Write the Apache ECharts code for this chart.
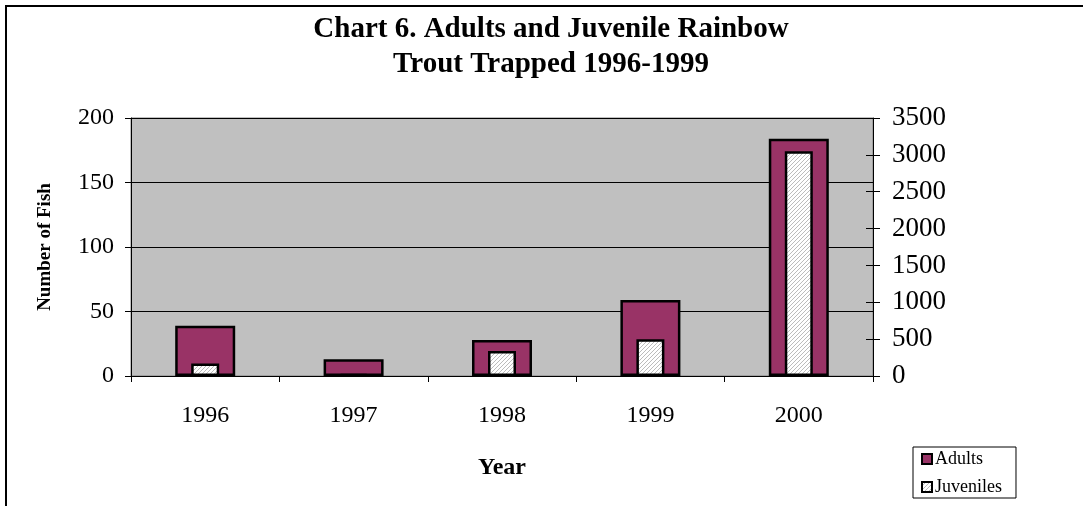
<!DOCTYPE html>
<html>
<head>
<meta charset="utf-8">
<script src="https://cdn.jsdelivr.net/npm/echarts@6/dist/echarts.min.js"></script>
<style>
html,body{margin:0;padding:0;background:#fff;}
#chart{width:1083px;height:506px;}
</style>
</head>
<body>
<div id="chart"></div>
<script>
const categories = ['1996', '1997', '1998', '1999', '2000'];
const adults = [39, 13, 28, 59, 184];
const juveniles = [170, 25, 340, 500, 3050];
const titleLines = ['Chart 6. Adults and Juvenile Rainbow', 'Trout Trapped 1996-1999'];
const seriesNames = ['Adults', 'Juveniles'];

const FONT = "'Liberation Serif', 'Times New Roman', serif";

// hatch pattern for juveniles
const pc = document.createElement('canvas');
pc.width = 4; pc.height = 4;
const pctx = pc.getContext('2d');
pctx.fillStyle = '#ffffff';
pctx.fillRect(0, 0, 4, 4);
pctx.strokeStyle = '#bcbcbc';
pctx.lineWidth = 1;
pctx.beginPath();
pctx.moveTo(0, 4); pctx.lineTo(4, 0);
pctx.moveTo(-2, 2); pctx.lineTo(2, -2);
pctx.moveTo(2, 6); pctx.lineTo(6, 2);
pctx.stroke();
const hatch = { image: pc, repeat: 'repeat' };

const chart = echarts.init(document.getElementById('chart'));
const option = {
  animation: false,
  backgroundColor: '#ffffff',
  graphic: [
    { type: 'rect', shape: { x: 6, y: 6, width: 1200, height: 700 }, style: { fill: 'none', stroke: '#000', lineWidth: 2 }, silent: true, z: 100 },
    { type: 'text', x: 551, y: 30, style: { text: titleLines[0], font: "bold 29px 'Liberation Serif', serif", fill: '#000', align: 'center', verticalAlign: 'middle' } },
    { type: 'text', x: 551, y: 65, style: { text: titleLines[1], font: "bold 29px 'Liberation Serif', serif", fill: '#000', align: 'center', verticalAlign: 'middle' } }
  ],
  grid: {
    left: 131, right: 210, top: 118, bottom: 130,
    show: true, backgroundColor: '#c0c0c0', borderColor: '#808080', borderWidth: 1
  },
  legend: {
    orient: 'vertical',
    left: 913, top: 447,
    data: seriesNames,
    icon: 'rect',
    itemWidth: 10, itemHeight: 10,
    itemGap: 10,
    itemStyle: { borderColor: '#000', borderWidth: 2 },
    borderColor: '#000', borderWidth: 1,
    padding: [3, 14, 2, 8],
    textStyle: { fontFamily: FONT, fontSize: 18, color: '#000', padding: [0, 0, 0, -2] }
  },
  xAxis: [
    {
      type: 'category', data: categories, position: 'bottom',
      axisLine: { lineStyle: { color: '#000', width: 1 } },
      axisTick: { show: true, length: 6, lineStyle: { color: '#000' } },
      axisLabel: { fontFamily: FONT, fontSize: 24, color: '#000', margin: 28 },
      name: 'Year', nameLocation: 'middle', nameGap: 80,
      nameTextStyle: { fontFamily: FONT, fontSize: 24, fontWeight: 'bold', color: '#000' }
    },
    { type: 'category', data: categories, show: false }
  ],
  yAxis: [
    {
      type: 'value', min: 0, max: 200, interval: 50, position: 'left',
      axisLine: { show: true, lineStyle: { color: '#000' } },
      axisTick: { show: true, length: 6, lineStyle: { color: '#000' } },
      axisLabel: { fontFamily: FONT, fontSize: 24, color: '#000', margin: 17 },
      splitLine: { show: true, lineStyle: { color: '#000', width: 1 } },
      name: 'Number of Fish', nameLocation: 'middle', nameRotate: 90, nameGap: 76,
      nameTextStyle: { fontFamily: FONT, fontSize: 19, fontWeight: 'bold', color: '#000' }
    },
    {
      type: 'value', min: 0, max: 3500, interval: 500, position: 'right',
      axisLine: { show: true, lineStyle: { color: '#000' } },
      axisTick: { show: true, length: 7, lineStyle: { color: '#000' } },
      axisLabel: { fontFamily: FONT, fontSize: 27, color: '#000', margin: 19, formatter: function (v) { return String(v); } },
      splitLine: { show: false }
    },
    {
      type: 'value', min: 0, max: 3500, interval: 500, position: 'right',
      axisLine: { show: false },
      axisTick: { show: true, inside: true, length: 7, lineStyle: { color: '#000' } },
      axisLabel: { show: false },
      splitLine: { show: false }
    }
  ],
  series: [
    {
      name: seriesNames[0], type: 'bar', xAxisIndex: 0, yAxisIndex: 0,
      data: adults, barWidth: 60,
      itemStyle: { color: '#993366', borderColor: '#000', borderWidth: 2.5 },
      z: 2
    },
    {
      name: seriesNames[1], type: 'bar', xAxisIndex: 1, yAxisIndex: 1,
      data: juveniles, barWidth: 28,
      itemStyle: { color: hatch, borderColor: '#000', borderWidth: 2.5 },
      z: 3
    }
  ]
};
chart.setOption(option);
</script>
</body>
</html>
